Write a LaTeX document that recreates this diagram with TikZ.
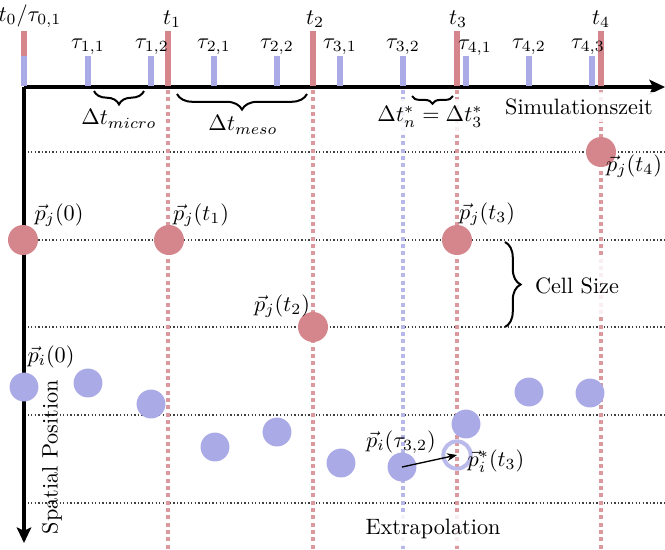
\documentclass[tikz,border=0pt]{standalone}
\usetikzlibrary{arrows.meta,decorations.pathreplacing}
\definecolor{macro}{RGB}{212,134,140}
\definecolor{micro}{RGB}{170,170,230}
\begin{document}
\begin{tikzpicture}[x=0.45pt,y=-0.45pt,
  macrobar/.style={macro,line width=2.7pt},
  microbar/.style={micro,line width=2.4pt},
  macroline/.style={macro!85,line width=1.8pt,dash pattern=on 1.8pt off 1.5pt},
  microline/.style={micro!85,line width=1.8pt,dash pattern=on 1.8pt off 1.5pt},
  gridline/.style={black!75,densely dotted,line width=0.6pt},
  axis/.style={line width=1.4pt,-{Stealth[length=7pt,width=6.5pt,inset=1.5pt]}},
  mac/.style={circle,fill=macro,inner sep=0pt,minimum size=13.5pt},
  mic/.style={circle,fill=micro,inner sep=0pt,minimum size=13pt},
  brc/.style={decorate,line width=0.9pt},
  cover/.style={fill=white,fill opacity=0.85,text opacity=1}
]
\useasboundingbox (0,0) rectangle (665,549);

% grid lines (cell boundaries)
\foreach \y in {152,240,327,415,503}
  \draw[gridline] (24,\y) -- (665,\y);

% vertical dotted time lines
\foreach \x in {168,313,457,601}
  \draw[macroline] (\x,90) -- (\x,549);
\draw[microline] (403,90) -- (403,549);

% axes
\coordinate (O) at (24,87);
\coordinate (xend) at (665,87);
\coordinate (yend) at (24,543);
\draw[axis] (O) -- (xend);
\draw[axis] (O) -- (yend);

% bars
\foreach \x in {24,168,313,457,601}
  \draw[macrobar] (\x,86) -- (\x,31);
\foreach \x in {24,88,151,214,277,340,403,466,529,592}
  \draw[microbar] (\x,86) -- (\x,56);

% time labels
\node (t0) at (30,16) {$t_0/\tau_{0,1}$};
\node (t1) at (172,19) {$t_1$};
\node (t2) at (315,19) {$t_2$};
\node (t3) at (458,19) {$t_3$};
\node (t4) at (601,19) {$t_4$};
\node (tau11) at (88,47) {$\tau_{1,1}$};
\node (tau12) at (152,47) {$\tau_{1,2}$};
\node (tau21) at (214,47) {$\tau_{2,1}$};
\node (tau22) at (277,47) {$\tau_{2,2}$};
\node (tau31) at (340,47) {$\tau_{3,1}$};
\node (tau32) at (403,47) {$\tau_{3,2}$};
\node (tau41) at (475,48) {$\tau_{4,1}$};
\node (tau42) at (529,47) {$\tau_{4,2}$};
\node (tau43) at (588,47) {$\tau_{4,3}$};

% braces
\draw[brc,decoration={brace,mirror,amplitude=6pt}] (94,91) -- (144,91);
\node (dmicro) at (119,119) {$\Delta t_{micro}$};
\draw[brc,decoration={brace,mirror,amplitude=7pt}] (177,94) -- (307,94);
\node (dmeso) at (243,125) {$\Delta t_{meso}$};
\node[cover] (dstar) at (430,117) {$\Delta t^*_n = \Delta t^*_3$};
\draw[brc,decoration={brace,mirror,amplitude=3.5pt}] (412,96) -- (453,96);
\node[cover] (simz) at (579,107) {Simulationszeit};
\node[cover,minimum height=25pt] (cell) at (577,286) {Cell Size};
\draw[brc,decoration={brace,amplitude=7pt}] (505,242) -- (505,327);

% particle j (macro)
\node[mac] (pj0) at (23,240) {};
\node[mac] (pj1) at (169,240) {};
\node[mac] (pj2) at (313,327) {};
\node[mac] (pj3) at (457,240) {};
\node[mac] (pj4) at (601,152) {};
\node (lpj0) at (59,215) {$\vec{p}_j(0)$};
\node (lpj1) at (201,215) {$\vec{p}_j(t_1)$};
\node (lpj2) at (282,306) {$\vec{p}_j(t_2)$};
\node (lpj3) at (487,214) {$\vec{p}_j(t_3)$};
\node (lpj4) at (634,166) {$\vec{p}_j(t_4)$};

% particle i (micro)
\node[mic] (b1) at (24,387) {};
\node[mic] (b2) at (88,383) {};
\node[mic] (b3) at (151,404) {};
\node[mic] (b4) at (215,447) {};
\node[mic] (b5) at (277,432) {};
\node[mic] (b6) at (341,463) {};
\node[mic] (b7) at (402,467) {};
\node[mic] (b8) at (466,424) {};
\node[mic] (b9) at (529,392) {};
\node[mic] (b10) at (590,393) {};
\node[circle,draw=micro!80,line width=1.8pt,inner sep=0pt,minimum size=12.3pt] (ring) at (457,455) {};
\draw[-{Stealth[length=4.5pt,width=3.5pt]},line width=0.6pt] (b7.center) -- (ring.center);

\node (lpi0) at (51,357) {$\vec{p}_i(0)$};
\node (lpit) at (401,442) {$\vec{p}_i(\tau_{3,2})$};
\node (lpis) at (496,461) {$\vec{p}^*_i(t_3)$};

\node[cover] (extra) at (433,529) {Extrapolation};
\node[rotate=90] (sp) at (52,457) {Spatial Position};
\end{tikzpicture}
\end{document}
